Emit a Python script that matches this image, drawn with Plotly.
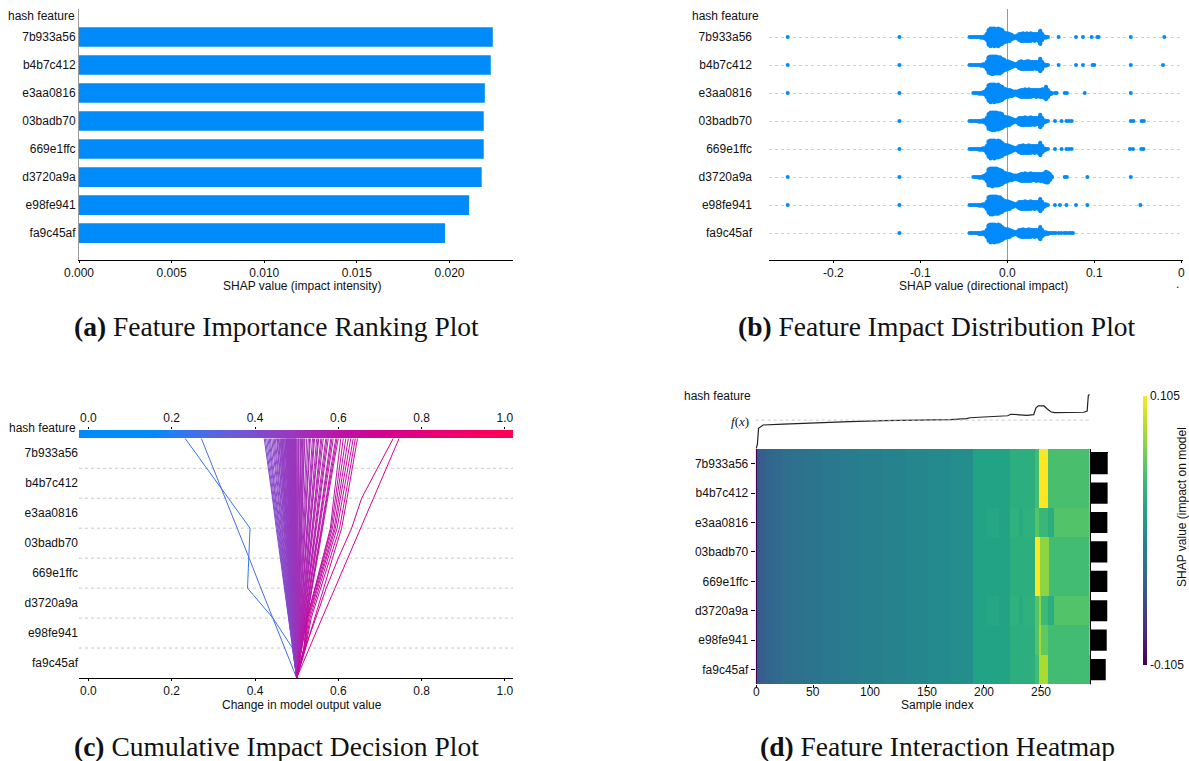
import math
import numpy as np
import plotly.graph_objects as go
from plotly.colors import sample_colorscale

W, H = 1189, 761

features = ["7b933a56", "b4b7c412", "e3aa0816", "03badb70",
            "669e1ffc", "d3720a9a", "e98fe941", "fa9c45af"]

# ---- (a) mean |SHAP| per feature ----
importance = [0.02234, 0.02223, 0.02191, 0.02185, 0.02185, 0.02174, 0.02106, 0.01976]

# ---- (b) SHAP values per feature: value grid with per-feature counts, plus isolated points ----
swarm_grid = [-0.0435, -0.0413, -0.0391, -0.0369, -0.0347, -0.0325, -0.0303, -0.0281,
              -0.0259, -0.0237, -0.0215, -0.0193, -0.0171, -0.0149, -0.0127, -0.0105,
              -0.0083, -0.0061, -0.0039, -0.0017, 0.0005, 0.0027, 0.0049, 0.0071,
              0.0093, 0.0115, 0.0137, 0.0159, 0.0181, 0.0203, 0.0225, 0.0247,
              0.0269, 0.0291, 0.0313, 0.0335, 0.0357, 0.0379, 0.0401, 0.0423,
              0.0445, 0.0467, 0.0489, 0.0511]
swarm_counts = [
    [1, 1, 1, 1, 1, 1, 2, 2, 4, 9, 20, 24, 23, 24, 22, 24, 21, 19, 14, 12, 11, 10,
     7, 4, 3, 5, 9, 10, 11, 10, 11, 10, 11, 9, 10, 9, 10, 18, 9, 3, 2, 1, 0, 0],
    [1, 1, 1, 1, 1, 1, 2, 3, 4, 10, 21, 23, 24, 23, 23, 22, 22, 18, 15, 12, 11, 9,
     7, 5, 3, 5, 9, 11, 10, 10, 11, 11, 10, 10, 9, 10, 10, 17, 10, 3, 2, 1, 0, 0],
    [0, 0, 1, 1, 1, 2, 2, 3, 5, 11, 21, 24, 23, 24, 22, 23, 20, 18, 14, 11, 10, 9,
     8, 6, 5, 6, 8, 10, 10, 11, 10, 11, 10, 9, 9, 10, 9, 10, 11, 12, 17, 10, 4, 2],
    [1, 1, 1, 1, 1, 2, 2, 3, 4, 9, 20, 23, 24, 24, 23, 22, 21, 19, 14, 12, 11, 10,
     7, 5, 3, 5, 9, 10, 10, 11, 10, 10, 11, 9, 10, 9, 9, 17, 10, 4, 2, 1, 0, 0],
    [1, 1, 1, 1, 1, 2, 2, 3, 4, 10, 21, 24, 23, 24, 22, 23, 21, 18, 14, 12, 11, 9,
     7, 5, 3, 5, 9, 10, 11, 10, 10, 11, 10, 9, 10, 9, 10, 17, 9, 4, 2, 1, 0, 0],
    [0, 0, 1, 1, 1, 2, 2, 3, 5, 10, 22, 23, 24, 23, 23, 22, 20, 18, 14, 12, 10, 9,
     8, 6, 5, 6, 8, 10, 10, 11, 10, 10, 11, 9, 9, 10, 9, 10, 10, 12, 15, 14, 9, 3],
    [1, 1, 1, 1, 1, 2, 2, 3, 4, 10, 21, 24, 24, 23, 23, 22, 21, 18, 14, 12, 11, 10,
     7, 5, 3, 5, 9, 10, 10, 11, 10, 10, 11, 9, 10, 9, 10, 17, 10, 4, 3, 1, 0, 0],
    [1, 1, 1, 1, 1, 2, 2, 3, 4, 10, 21, 24, 23, 24, 22, 23, 21, 18, 14, 12, 11, 10,
     7, 5, 3, 5, 9, 10, 11, 10, 10, 11, 10, 9, 10, 9, 10, 17, 9, 4, 3, 2, 1, 1],
]
swarm_extra = [
    [-0.2525, -0.124, 0.059, 0.079, 0.087, 0.097, 0.1035, 0.105, 0.142, 0.1805],
    [-0.2525, -0.124, 0.059, 0.079, 0.087, 0.098, 0.100, 0.142, 0.179],
    [-0.2525, -0.124, 0.055, 0.0567, 0.066, 0.0685, 0.089, 0.142],
    [-0.124, 0.0548, 0.0624, 0.068, 0.071, 0.074, 0.142, 0.145, 0.1544, 0.157],
    [-0.124, 0.0548, 0.0624, 0.068, 0.071, 0.074, 0.141, 0.1445, 0.154, 0.1565],
    [-0.2525, -0.124, 0.066, 0.0685, 0.092, 0.142],
    [-0.2525, -0.124, 0.0548, 0.0605, 0.068, 0.079, 0.092, 0.153],
    [-0.124, 0.0535, 0.0555, 0.059, 0.062, 0.0655, 0.068, 0.071, 0.073, 0.0755],
]

# ---- (c) decision paths: per-sample contributions, feature order top -> bottom ----
decision_base = 0.5
decision_contribs = [
    [-0.052, -0.052, -0.052, 0.003, 0.003, -0.061, -0.047, -0.010],
    [-0.029, -0.029, -0.028, -0.029, -0.028, -0.029, -0.028, -0.029],
    [-0.010, -0.010, -0.009, -0.010, -0.010, -0.009, -0.010, -0.010],
    [-0.0094, -0.0094, -0.0094, -0.0094, -0.0094, -0.0094, -0.0094, -0.0094],
    [-0.009, -0.009, -0.009, -0.009, -0.009, -0.009, -0.009, -0.009],
    [-0.0086, -0.0086, -0.0086, -0.0086, -0.0086, -0.0086, -0.0086, -0.0086],
    [-0.008, -0.008, -0.009, -0.008, -0.008, -0.008, -0.009, -0.008],
    [-0.0079, -0.0079, -0.0079, -0.0079, -0.0079, -0.0079, -0.0079, -0.0079],
    [-0.008, -0.007, -0.008, -0.007, -0.007, -0.008, -0.007, -0.008],
    [-0.0071, -0.0071, -0.0071, -0.0071, -0.0071, -0.0071, -0.0071, -0.0071],
    [-0.007, -0.007, -0.006, -0.007, -0.007, -0.006, -0.007, -0.007],
    [-0.0064, -0.0064, -0.0064, -0.0064, -0.0064, -0.0064, -0.0064, -0.0064],
    [-0.006, -0.006, -0.006, -0.006, -0.006, -0.006, -0.006, -0.006],
    [-0.0058, -0.0058, -0.0058, -0.0058, -0.0058, -0.0058, -0.0058, -0.0058],
    [-0.006, -0.005, -0.006, -0.005, -0.006, -0.005, -0.006, -0.005],
    [-0.0053, -0.0053, -0.0053, -0.0053, -0.0053, -0.0053, -0.0053, -0.0053],
    [-0.005, -0.005, -0.005, -0.005, -0.005, -0.005, -0.005, -0.005],
    [-0.0048, -0.0048, -0.0048, -0.0048, -0.0048, -0.0048, -0.0048, -0.0048],
    [-0.005, -0.004, -0.005, -0.005, -0.004, -0.005, -0.005, -0.004],
    [-0.0044, -0.0044, -0.0044, -0.0044, -0.0044, -0.0044, -0.0044, -0.0044],
    [-0.004, -0.004, -0.005, -0.004, -0.004, -0.005, -0.004, -0.004],
    [-0.0040, -0.0040, -0.0040, -0.0040, -0.0040, -0.0040, -0.0040, -0.0040],
    [-0.004, -0.004, -0.004, -0.004, -0.003, -0.004, -0.004, -0.004],
    [-0.0036, -0.0036, -0.0036, -0.0036, -0.0036, -0.0036, -0.0036, -0.0036],
    [-0.004, -0.003, -0.004, -0.003, -0.004, -0.003, -0.004, -0.003],
    [-0.0033, -0.0033, -0.0033, -0.0033, -0.0033, -0.0033, -0.0033, -0.0033],
    [-0.003, -0.003, -0.003, -0.004, -0.003, -0.003, -0.003, -0.003],
    [-0.0030, -0.0030, -0.0030, -0.0030, -0.0030, -0.0030, -0.0030, -0.0030],
    [-0.003, -0.003, -0.003, -0.003, -0.003, -0.003, -0.003, -0.002],
    [-0.0028, -0.0028, -0.0028, -0.0028, -0.0028, -0.0028, -0.0028, -0.0028],
    [-0.003, -0.002, -0.003, -0.003, -0.002, -0.003, -0.003, -0.002],
    [-0.0025, -0.0025, -0.0025, -0.0025, -0.0025, -0.0025, -0.0025, -0.0025],
    [-0.002, -0.002, -0.003, -0.002, -0.002, -0.003, -0.002, -0.003],
    [-0.0023, -0.0023, -0.0023, -0.0023, -0.0023, -0.0023, -0.0023, -0.0023],
    [-0.002, -0.002, -0.002, -0.002, -0.002, -0.002, -0.002, -0.003],
    [-0.0020, -0.0020, -0.0020, -0.0020, -0.0020, -0.0020, -0.0020, -0.0020],
    [-0.002, -0.002, -0.002, -0.002, -0.002, -0.002, -0.002, -0.001],
    [-0.0018, -0.0018, -0.0018, -0.0018, -0.0018, -0.0018, -0.0018, -0.0018],
    [-0.002, -0.001, -0.002, -0.002, -0.001, -0.002, -0.002, -0.001],
    [-0.0015, -0.0015, -0.0015, -0.0015, -0.0015, -0.0015, -0.0015, -0.0015],
    [-0.001, -0.002, -0.001, -0.001, -0.002, -0.001, -0.002, -0.001],
    [-0.0013, -0.0013, -0.0013, -0.0013, -0.0013, -0.0013, -0.0013, -0.0013],
    [-0.001, -0.001, -0.001, -0.001, -0.001, -0.001, -0.002, -0.001],
    [-0.0010, -0.0010, -0.0010, -0.0010, -0.0010, -0.0010, -0.0010, -0.0010],
    [-0.001, -0.001, -0.001, -0.001, -0.001, -0.001, -0.001, 0.000],
    [-0.0008, -0.0008, -0.0008, -0.0008, -0.0008, -0.0008, -0.0008, -0.0008],
    [-0.001, 0.000, -0.001, -0.001, 0.000, -0.001, -0.001, 0.000],
    [-0.0005, -0.0005, -0.0005, -0.0005, -0.0005, -0.0005, -0.0005, -0.0005],
    [0.000, -0.001, 0.000, 0.000, -0.001, 0.000, -0.001, 0.000],
    [-0.0003, -0.0003, -0.0003, -0.0003, -0.0003, -0.0003, -0.0003, -0.0003],
    [0.000, 0.000, 0.000, -0.001, 0.000, 0.000, 0.000, 0.000],
    [0.0001, 0.0001, 0.0001, 0.0001, 0.0001, 0.0001, 0.0001, 0.0001],
    [0.001, 0.000, 0.000, 0.001, 0.000, 0.000, 0.001, 0.000],
    [0.0006, 0.0006, 0.0006, 0.0006, 0.0006, 0.0006, 0.0006, 0.0006],
    [0.001, 0.001, 0.001, 0.000, 0.001, 0.001, 0.000, 0.001],
    [0.001, 0.001, 0.001, 0.001, 0.001, 0.001, 0.002, 0.001],
    [0.0013, 0.0013, 0.0013, 0.0013, 0.0013, 0.0013, 0.0013, 0.0013],
    [0.002, 0.001, 0.002, 0.001, 0.002, 0.001, 0.002, 0.001],
    [0.0018, 0.0018, 0.0018, 0.0018, 0.0018, 0.0018, 0.0018, 0.0018],
    [0.002, 0.002, 0.002, 0.002, 0.002, 0.002, 0.002, 0.002],
    [0.0023, 0.0023, 0.0023, 0.0023, 0.0023, 0.0023, 0.0023, 0.0023],
    [0.003, 0.002, 0.003, 0.002, 0.003, 0.002, 0.003, 0.002],
    [0.003, 0.003, 0.003, 0.003, 0.003, 0.003, 0.003, 0.003],
    [0.004, 0.003, 0.004, 0.003, 0.004, 0.003, 0.004, 0.003],
    [0.0039, 0.0039, 0.0039, 0.0039, 0.0039, 0.0039, 0.0039, 0.0039],
    [0.004, 0.004, 0.004, 0.004, 0.005, 0.004, 0.004, 0.004],
    [0.005, 0.004, 0.005, 0.005, 0.004, 0.005, 0.005, 0.005],
    [0.0051, 0.0051, 0.0051, 0.0051, 0.0051, 0.0051, 0.0051, 0.0051],
    [0.006, 0.005, 0.005, 0.006, 0.005, 0.005, 0.006, 0.005],
    [0.006, 0.006, 0.006, 0.006, 0.006, 0.006, 0.006, 0.006],
    [0.0064, 0.0064, 0.0064, 0.0064, 0.0064, 0.0064, 0.0064, 0.0064],
    [0.007, 0.006, 0.007, 0.006, 0.007, 0.007, 0.006, 0.007],
    [0.007, 0.007, 0.007, 0.007, 0.008, 0.007, 0.007, 0.008],
    [0.0076, 0.0076, 0.0076, 0.0076, 0.0076, 0.0076, 0.0076, 0.0076],
    [0.008, 0.008, 0.008, 0.008, 0.008, 0.008, 0.008, 0.008],
    [0.009, 0.009, 0.008, 0.009, 0.009, 0.008, 0.009, 0.009],
    [0.0091, 0.0091, 0.0091, 0.0091, 0.0091, 0.0091, 0.0091, 0.0091],
    [0.010, 0.009, 0.010, 0.009, 0.010, 0.009, 0.010, 0.009],
    [0.010, 0.010, 0.010, 0.011, 0.010, 0.010, 0.011, 0.010],
    [0.0106, 0.0106, 0.0106, 0.0106, 0.0106, 0.0106, 0.0106, 0.0106],
    [0.011, 0.011, 0.011, 0.011, 0.011, 0.011, 0.011, 0.011],
    [0.012, 0.011, 0.012, 0.012, 0.012, 0.011, 0.012, 0.012],
    [0.0121, 0.0121, 0.0121, 0.0121, 0.0121, 0.0121, 0.0121, 0.0121],
    [0.013, 0.012, 0.013, 0.012, 0.013, 0.012, 0.013, 0.012],
    [0.008, 0.009, 0.008, 0.019, 0.018, 0.019, 0.007, 0.018],
    [0.010, 0.009, 0.010, 0.019, 0.020, 0.019, 0.008, 0.017],
    [0.011, 0.010, 0.011, 0.020, 0.020, 0.021, 0.007, 0.018],
    [0.012, 0.011, 0.011, 0.021, 0.021, 0.021, 0.009, 0.018],
    [0.012, 0.013, 0.012, 0.021, 0.022, 0.021, 0.010, 0.019],
    [0.013, 0.013, 0.013, 0.022, 0.021, 0.022, 0.012, 0.020],
    [0.013, 0.012, 0.013, 0.023, 0.022, 0.023, 0.014, 0.021],
    [0.013, 0.012, 0.013, 0.022, 0.021, 0.022, 0.021, 0.022],
    [0.038, 0.038, 0.024, 0.032, 0.029, 0.025, 0.026, 0.020],
    [0.031, 0.031, 0.031, 0.030, 0.031, 0.031, 0.031, 0.030],
]

# ---- (d) heatmap: blocks of samples (start, stop, SHAP value) ----
sample_count = 294
heat_common = [(0, 1, -0.120), (1, 4, -0.046), (4, 8, -0.042), (8, 14, -0.038),
               (14, 22, -0.034), (22, 32, -0.030), (32, 44, -0.027), (44, 58, -0.024),
               (58, 74, -0.021), (74, 92, -0.018), (92, 112, -0.014), (112, 132, -0.011),
               (132, 152, -0.008), (152, 172, -0.005), (172, 191, -0.002), (191, 224, 0.016),
               (224, 246, 0.027)]
heat_rows = [
    [(246, 249, 0.040), (249, 257, 0.105), (257, 293, 0.043), (293, 294, 0.105)],
    [(246, 249, 0.040), (249, 257, 0.105), (257, 293, 0.043), (293, 294, 0.105)],
    [(204, 214, 0.019), (224, 232, 0.030), (232, 235, 0.023), (235, 246, 0.029),
     (246, 249, 0.048), (249, 257, 0.036), (257, 263, 0.026), (263, 293, 0.047), (293, 294, 0.080)],
    [(246, 250, 0.105), (250, 258, 0.069), (258, 293, 0.040), (293, 294, 0.105)],
    [(246, 250, 0.105), (250, 258, 0.069), (258, 293, 0.040), (293, 294, 0.105)],
    [(204, 214, 0.019), (224, 232, 0.030), (232, 235, 0.023), (235, 246, 0.029),
     (246, 249, 0.048), (249, 251, 0.069), (251, 257, 0.038), (257, 263, 0.026),
     (263, 293, 0.047), (293, 294, 0.080)],
    [(246, 249, 0.047), (249, 251, 0.076), (251, 257, 0.052), (257, 293, 0.040), (293, 294, 0.105)],
    [(246, 249, 0.040), (249, 257, 0.078), (257, 293, 0.040), (293, 294, 0.050)],
]
sample_ticks = [0, 50, 100, 150, 200, 250]
fx_index = [0, 1, 2, 6, 24, 53, 82, 112, 141, 171, 185, 188, 200, 221, 224, 231,
            238, 244, 246, 248, 253, 256, 259, 262, 285, 288, 291, 292, 293]
fx_value = [0.232, 0.271, 0.422, 0.454, 0.463, 0.476, 0.485, 0.495, 0.4985, 0.504,
            0.514, 0.523, 0.530, 0.542, 0.556, 0.550, 0.546, 0.552, 0.618, 0.637,
            0.635, 0.606, 0.580, 0.571, 0.571, 0.575, 0.587, 0.732, 0.746]

SANS = "Liberation Sans, Arial, sans-serif"
SERIF = "Liberation Serif, Times New Roman, serif"
INK = "#111111"
BLUE = "#008bfb"


def xdom(a, b):
    return [a / W, b / W]


def ydom(top, bottom):
    return [1 - bottom / H, 1 - top / H]


fig = go.Figure()
annotations = []
shapes = []


def label(text, x, y, size=12, xanchor="center", **kw):
    annotations.append(dict(text=text, x=x / W, y=1 - y / H, xref="paper", yref="paper",
                            xanchor=xanchor, yanchor="middle", showarrow=False,
                            font=dict(family=kw.pop("family", SANS), size=size,
                                      color=kw.pop("color", INK)), **kw))


tick_font = dict(family=SANS, size=12, color=INK)

# ---------------- (a) importance bars ----------------
fig.add_trace(go.Bar(x=importance, y=features, orientation="h", width=0.7,
                     marker=dict(color=BLUE, line=dict(width=0)),
                     xaxis="x", yaxis="y", showlegend=False))
layout_axes = dict(
    xaxis=dict(domain=xdom(79, 513), anchor="y", range=[0, 0.02343],
               tickvals=[0, 0.005, 0.010, 0.015, 0.020], tickformat=".3f",
               showline=True, linecolor="black", linewidth=1, ticks="outside",
               ticklen=2, tickcolor="black", showgrid=False, zeroline=False,
               tickfont=tick_font),
    yaxis=dict(domain=ydom(9, 260), anchor="x", type="category",
               categoryorder="array", categoryarray=features, range=[7.96, -1],
               showline=True, linecolor="#999999", linewidth=1, ticks="",
               showgrid=False, zeroline=False, tickfont=tick_font),
)
label("hash feature", 77, 16, xanchor="right")
label("SHAP value (impact intensity)", 302, 286)

# ---------------- (b) beeswarm ----------------
bx, by = [], []
for r, (counts, extra) in enumerate(zip(swarm_counts, swarm_extra)):
    vals = []
    for v, c in zip(swarm_grid, counts):
        vals += [v] * c
    vals += extra
    layers = {}
    offs = []
    for v in vals:
        k = layers.get(v, 0)
        offs.append(math.ceil(k / 2) * (1 if k % 2 == 1 else -1))
        layers[v] = k + 1
    scale = 0.9 * 0.4 / (max(offs) + 1)
    bx += vals
    by += [r + o * scale for o in offs]
fig.add_trace(go.Scatter(x=bx, y=by, mode="markers", xaxis="x2", yaxis="y2",
                         marker=dict(size=4, color=BLUE, line=dict(width=0)),
                         showlegend=False))
layout_axes.update(
    xaxis2=dict(domain=xdom(769, 1183), anchor="y2", range=[-0.274, 0.202],
                tickvals=[-0.2, -0.1, 0.0, 0.1, 0.2],
                ticktext=["-0.2", "-0.1", "0.0", "0.1", "0"],
                showline=True, linecolor="black", linewidth=1, ticks="outside",
                ticklen=2, tickcolor="black", showgrid=False,
                zeroline=True, zerolinecolor="#999999", zerolinewidth=1,
                tickfont=tick_font),
    yaxis2=dict(domain=ydom(9, 260), anchor="x2", range=[7.96, -1],
                tickvals=list(range(len(features))), ticktext=features,
                showgrid=True, gridcolor="#d0d0d0", griddash="dot", gridwidth=1,
                zeroline=False, showline=False, ticks="", ticklabelstandoff=16,
                tickfont=tick_font),
)
label("hash feature", 761, 16, xanchor="right")
label("SHAP value (directional impact)", 983, 286)
label(".", 1177, 284, size=12)

# ---------------- (c) decision plot ----------------
dec_min, dec_max = -0.0226, 1.0194
dec_scale = [[0.0, "#008bfb"], [0.17, "#008bfb"], [0.23, "#2d7af1"], [0.31, "#5566e2"],
             [0.40, "#7a50d0"], [0.50, "#9d35bb"], [0.60, "#bb13a6"], [0.70, "#d2008f"],
             [0.80, "#e40079"], [0.90, "#f30065"], [1.0, "#ff0052"]]
n_feat = len(features)
for contrib in decision_contribs:
    path = [decision_base]
    for f in reversed(range(n_feat)):
        path.append(path[-1] + contrib[f])
    ys = list(range(n_feat, -1, -1))
    pos = (path[-1] - dec_min) / (dec_max - dec_min)
    col = sample_colorscale(dec_scale, [min(max(pos, 0), 1)])[0]
    fig.add_trace(go.Scatter(x=path, y=ys, mode="lines", xaxis="x3", yaxis="y3",
                             line=dict(color=col, width=1), showlegend=False,
                             hoverinfo="skip"))
ramp = np.linspace(dec_min, dec_max, 400)
fig.add_trace(go.Heatmap(x=ramp, y=[0], z=[ramp], colorscale=dec_scale,
                         zmin=dec_min, zmax=dec_max, showscale=False,
                         xaxis="x4", yaxis="y4", hoverinfo="skip"))
for i in range(1, n_feat):
    shapes.append(dict(type="line", xref="x3 domain", yref="y3", x0=0, x1=1, y0=i, y1=i,
                       line=dict(color="#c8c8c8", width=1, dash="dot"), layer="below"))
layout_axes.update(
    xaxis3=dict(domain=xdom(79, 513), anchor="y3", range=[dec_min, dec_max],
                tickvals=[0, 0.2, 0.4, 0.6, 0.8, 1.0], tickformat=".1f",
                showline=True, linecolor="black", linewidth=1, ticks="outside",
                ticklen=2, tickcolor="black", showgrid=False, zeroline=False,
                tickfont=tick_font),
    yaxis3=dict(domain=ydom(438.3, 678), anchor="x3", range=[n_feat, 0],
                tickvals=[i + 0.5 for i in range(n_feat)], ticktext=features,
                showgrid=False, zeroline=False, showline=False, ticks="",
                tickfont=tick_font),
    xaxis4=dict(domain=xdom(79, 513), anchor="y4", range=[dec_min, dec_max],
                side="top", tickvals=[0, 0.2, 0.4, 0.6, 0.8, 1.0], tickformat=".1f",
                ticks="outside", ticklen=2, tickcolor="black", showline=False,
                showgrid=False, zeroline=False, tickfont=tick_font),
    yaxis4=dict(domain=ydom(430, 438.3), anchor="x4", range=[-0.5, 0.5],
                visible=False),
)
label("hash feature", 78, 428, xanchor="right")
label("Change in model output value", 302, 705)

# ---------------- (d) heatmap ----------------
z = []
for r in range(n_feat):
    row = [0.0] * sample_count
    for a, b, v in heat_common + heat_rows[r]:
        for i in range(a, b):
            row[i] = v
    z.append(row)
fig.add_trace(go.Heatmap(
    x=list(range(sample_count)), y=features, z=z, colorscale="Viridis",
    zmin=-0.105, zmax=0.105, xaxis="x6", yaxis="y6", hoverinfo="skip",
    colorbar=dict(x=1143 / W, xanchor="left", y=1 - 530.5 / H, yanchor="middle",
                  len=269 / H, lenmode="fraction", thickness=4, xpad=0, ypad=0,
                  outlinewidth=0, tickvals=[-0.105, 0.105], ticktext=["-0.105", "0.105"],
                  ticks="", tickfont=tick_font)))
fig.add_trace(go.Scatter(x=fx_index, y=fx_value, mode="lines", xaxis="x5", yaxis="y5",
                         line=dict(color="#222222", width=1.2), showlegend=False,
                         hoverinfo="skip"))
fig.add_trace(go.Bar(x=importance, y=features, orientation="h", width=0.72,
                     marker=dict(color="black", line=dict(width=0)),
                     xaxis="x7", yaxis="y7", showlegend=False, hoverinfo="skip"))
shapes.append(dict(type="line", xref="x5", yref="y5", x0=-0.5, x1=sample_count - 0.5,
                   y0=decision_base, y1=decision_base,
                   line=dict(color="#c8c8c8", width=1, dash="dot")))
shapes.append(dict(type="line", xref="paper", yref="paper", x0=1090.4 / W, x1=1090.4 / W,
                   y0=1 - 684.3 / H, y1=1 - 449 / H, line=dict(color="black", width=1.2)))
shapes.append(dict(type="line", xref="paper", yref="paper", x0=1090.4 / W, x1=1108 / W,
                   y0=1 - 452.5 / H, y1=1 - 452.5 / H, line=dict(color="black", width=1)))
for t in sample_ticks:
    annotations.append(dict(text=str(t), x=t, xref="x6", y=1 - 691.5 / H, yref="paper",
                            xanchor="center", yanchor="middle", showarrow=False,
                            font=tick_font))
layout_axes.update(
    xaxis5=dict(domain=xdom(755.7, 1090), anchor="y5", range=[-0.5, sample_count - 0.5],
                visible=False),
    yaxis5=dict(domain=ydom(392.3, 450.3), anchor="x5", range=[0.213, 0.765],
                visible=False),
    xaxis6=dict(domain=xdom(755.7, 1090), anchor="y6", range=[-0.5, sample_count - 0.5],
                tickvals=sample_ticks, showticklabels=False, ticks="outside", ticklen=3,
                tickcolor="black", showline=False, showgrid=False, zeroline=False),
    yaxis6=dict(domain=ydom(449, 684.3), anchor="x6", type="category",
                categoryorder="array", categoryarray=features, range=[7.5, -0.5],
                ticks="outside", ticklen=4, tickcolor="black", showgrid=False,
                zeroline=False, showline=False, tickfont=tick_font),
    xaxis7=dict(domain=xdom(1090.7, 1110), anchor="y7", range=[0, 0.02536],
                visible=False),
    yaxis7=dict(domain=ydom(449, 684.3), anchor="x7", type="category",
                categoryorder="array", categoryarray=features, range=[7.5, -0.5],
                visible=False),
)
label("hash feature", 753, 396, xanchor="right")
label("<i>f</i>(<i>x</i>)", 740, 421.7, size=13, family=SERIF)
label("Sample index", 937, 705)
label("SHAP value (impact on model", 1182, 507, textangle=-90)

# ---------------- captions ----------------
cap = 27.5
label("<b>(a)</b> Feature Importance Ranking Plot", 276, 326, size=cap, family=SERIF)
label("<b>(b)</b> Feature Impact Distribution Plot", 937, 326, size=cap, family=SERIF)
label("<b>(c)</b> Cumulative Impact Decision Plot", 276, 746, size=cap, family=SERIF)
label("<b>(d)</b> Feature Interaction Heatmap", 937, 746, size=cap, family=SERIF)

for key, ax in layout_axes.items():
    ax.setdefault("automargin", False)

fig.update_layout(
    width=W, height=H, margin=dict(l=0, r=0, t=0, b=0, autoexpand=False),
    paper_bgcolor="white", plot_bgcolor="white",
    font=dict(family=SANS, size=12, color=INK),
    showlegend=False, annotations=annotations, shapes=shapes,
    **layout_axes,
)

fig.write_html("out.html")
